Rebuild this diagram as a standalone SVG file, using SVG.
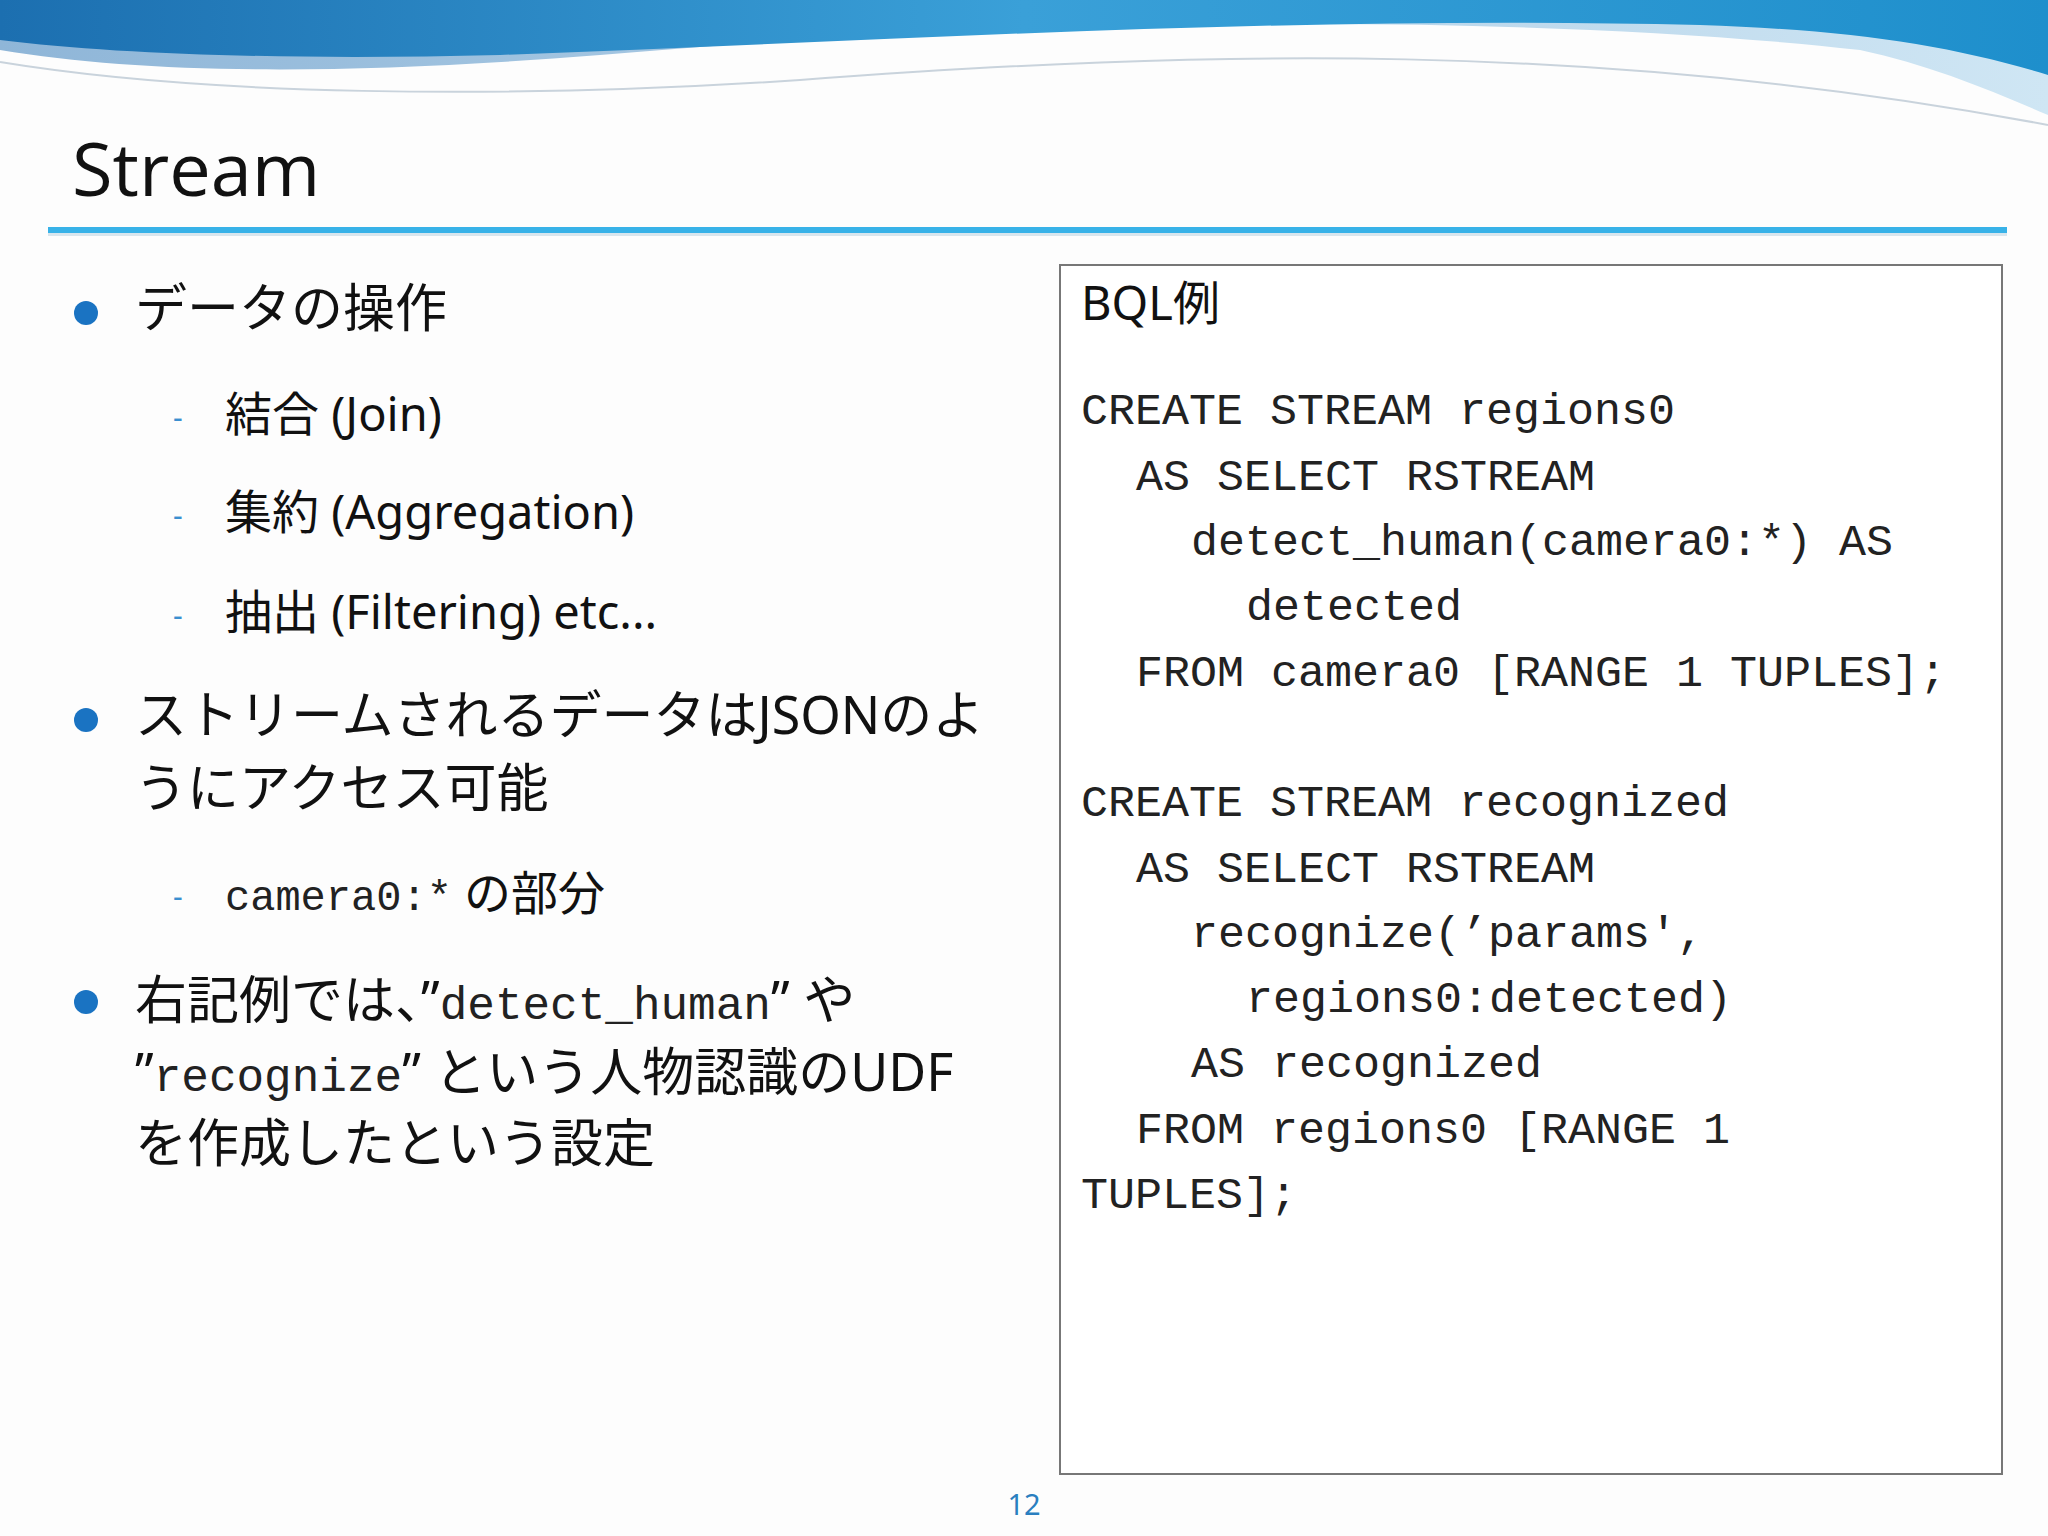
<svg xmlns="http://www.w3.org/2000/svg" width="2048" height="1536" viewBox="0 0 2048 1536">
<defs>
<linearGradient id="wave" x1="0" y1="0" x2="1" y2="0">
<stop offset="0" stop-color="#1c6fb0"/><stop offset="0.5" stop-color="#3aa0d8"/><stop offset="1" stop-color="#1e8fcc"/>
</linearGradient>
<linearGradient id="wave2" x1="0" y1="0" x2="1" y2="0">
<stop offset="0" stop-color="#8fb6d8"/><stop offset="1" stop-color="#cfe6f4"/>
</linearGradient>
</defs>
<style>
.jp{font-family:"Noto Sans","Noto Sans CJK JP",sans-serif;fill:#111}
.mono{font-family:"Liberation Mono",monospace;fill:#222}
.dash{font-family:"Noto Sans",sans-serif;fill:#3a8fd0;font-size:30px}
</style>
<rect width="2048" height="1536" fill="#fdfdfd"/>
<g id="header">
<path d="M0 0 H2048 V115 C1990 90 1930 65 1860 50 C1500 10 1000 20 600 55 C350 75 150 75 0 50 Z" fill="url(#wave2)"/>
<path d="M0 0 H2048 V75 C1950 45 1850 30 1700 25 C1300 15 900 40 500 55 C300 60 120 55 0 40 Z" fill="url(#wave)"/>
<path d="M0 62 C200 95 500 100 800 80 C1200 50 1600 40 2048 125" stroke="#c9d3dc" stroke-width="2" fill="none"/>
</g>
<text x="72" y="196" font-family="'Open Sans','Noto Sans',sans-serif" font-size="74" fill="#111">Stream</text>
<rect x="48" y="227" width="1959" height="6" fill="#38b2e8"/>
<rect x="48" y="233" width="1959" height="3" fill="#d8e6ee"/>
<g id="left">
<circle cx="86" cy="313" r="12" fill="#1a73c2"/>
<text class="jp" x="135" y="327" font-size="52">データの操作</text>
<text class="dash" x="173" y="428">-</text>
<text class="jp" x="225" y="431" font-size="47">結合 (Join)</text>
<text class="dash" x="173" y="526">-</text>
<text class="jp" x="225" y="529" font-size="47">集約 (Aggregation)</text>
<text class="dash" x="173" y="626">-</text>
<text class="jp" x="225" y="629" font-size="47">抽出 (Filtering) etc...</text>
<circle cx="86" cy="720" r="12" fill="#1a73c2"/>
<text class="jp" x="135" y="734" font-size="52">ストリームされるデータはJSONのよ</text>
<text class="jp" x="135" y="807" font-size="52">うにアクセス可能</text>
<text class="dash" x="173" y="907">-</text>
<text x="225" y="910" font-size="47"><tspan class="mono" font-size="42">camera0:*</tspan><tspan class="jp"> の部分</tspan></text>
<circle cx="86" cy="1002" r="12" fill="#1a73c2"/>
<text x="135" y="1019" font-size="52"><tspan class="jp">右記例では、”</tspan><tspan class="mono" font-size="46">detect_human</tspan><tspan class="jp">” や</tspan></text>
<text x="135" y="1091" font-size="52"><tspan class="jp">”</tspan><tspan class="mono" font-size="46">recognize</tspan><tspan class="jp">” という人物認識のUDF</tspan></text>
<text class="jp" x="135" y="1162" font-size="52">を作成したという設定</text>
</g>
<g id="box">
<rect x="1060" y="265" width="942" height="1209" fill="#fff" stroke="#777" stroke-width="2"/>
<text class="jp" x="1081" y="320" font-size="47">BQL例</text>
<g class="mono" font-size="45">
<text x="1081" y="424">CREATE STREAM regions0</text>
<text x="1136" y="490">AS SELECT RSTREAM</text>
<text x="1191" y="555">detect_human(camera0:*) AS</text>
<text x="1246" y="620">detected</text>
<text x="1136" y="686">FROM camera0 [RANGE 1 TUPLES];</text>
<text x="1081" y="816">CREATE STREAM recognized</text>
<text x="1136" y="882">AS SELECT RSTREAM</text>
<text x="1191" y="947">recognize(’params',</text>
<text x="1246" y="1012">regions0:detected)</text>
<text x="1191" y="1077">AS recognized</text>
<text x="1136" y="1143">FROM regions0 [RANGE 1</text>
<text x="1081" y="1208">TUPLES];</text>
</g>
</g>
<text x="1024" y="1515" font-family="'Noto Sans',sans-serif" font-size="29" fill="#2a7fc0" text-anchor="middle">12</text>
</svg>
